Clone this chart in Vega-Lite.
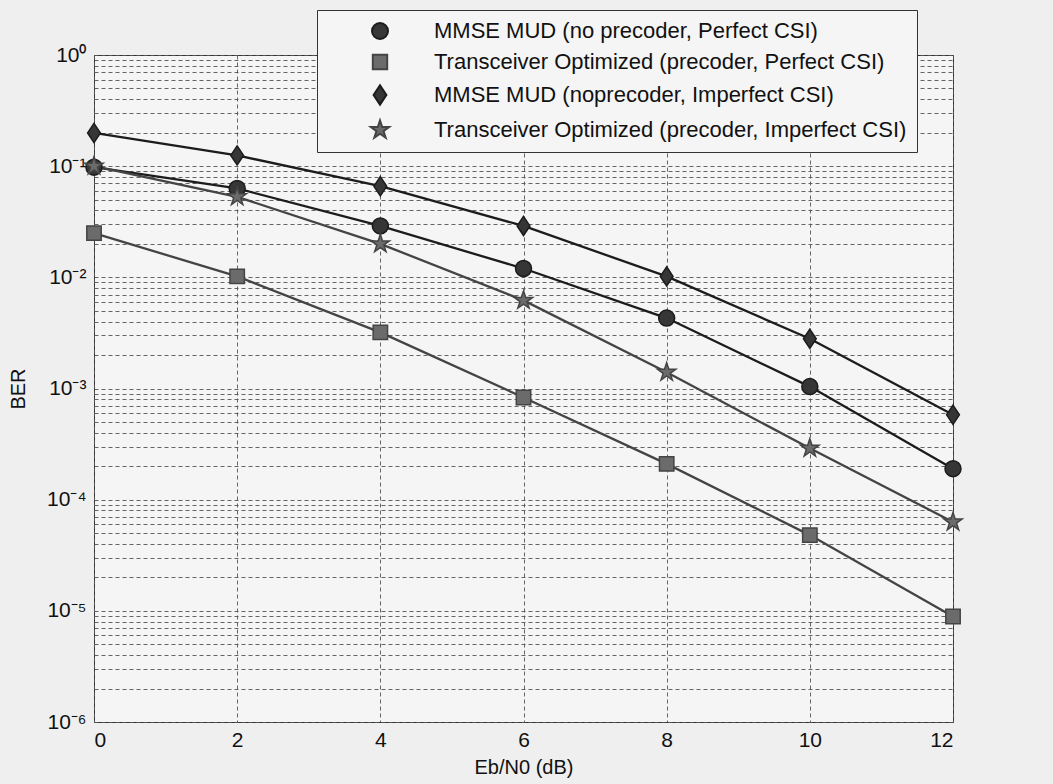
{
  "$schema": "https://vega.github.io/schema/vega-lite/v6.json",
  "width": 859,
  "height": 667,
  "autosize": {"type": "none"},
  "padding": {"left": 94, "top": 55, "right": 100, "bottom": 62},
  "background": "#efefef",
  "config": {
    "view": {"fill": "#f5f5f5", "stroke": "#333333", "strokeWidth": 1},
    "font": "Liberation Sans",
    "axis": {
      "labelFont": "Liberation Sans",
      "titleFont": "Liberation Sans",
      "labelFontSize": 21,
      "titleFontSize": 20,
      "titleFontWeight": "normal",
      "labelColor": "#111111",
      "titleColor": "#111111",
      "domain": false,
      "gridDash": [4, 3],
      "gridColor": "#555555",
      "gridWidth": 0.9,
      "gridOpacity": 1
    }
  },
  "data": {
    "values": [
      {"series": "MMSE MUD (no precoder, Perfect CSI)", "x": 0, "y": 0.098},
      {"series": "MMSE MUD (no precoder, Perfect CSI)", "x": 2, "y": 0.063},
      {"series": "MMSE MUD (no precoder, Perfect CSI)", "x": 4, "y": 0.029},
      {"series": "MMSE MUD (no precoder, Perfect CSI)", "x": 6, "y": 0.012},
      {"series": "MMSE MUD (no precoder, Perfect CSI)", "x": 8, "y": 0.0043},
      {"series": "MMSE MUD (no precoder, Perfect CSI)", "x": 10, "y": 0.00104},
      {"series": "MMSE MUD (no precoder, Perfect CSI)", "x": 12, "y": 0.00019},
      {"series": "Transceiver Optimized (precoder, Perfect CSI)", "x": 0, "y": 0.025},
      {"series": "Transceiver Optimized (precoder, Perfect CSI)", "x": 2, "y": 0.0102},
      {"series": "Transceiver Optimized (precoder, Perfect CSI)", "x": 4, "y": 0.0032},
      {"series": "Transceiver Optimized (precoder, Perfect CSI)", "x": 6, "y": 0.00083},
      {"series": "Transceiver Optimized (precoder, Perfect CSI)", "x": 8, "y": 0.00021},
      {"series": "Transceiver Optimized (precoder, Perfect CSI)", "x": 10, "y": 0.000048},
      {"series": "Transceiver Optimized (precoder, Perfect CSI)", "x": 12, "y": 0.0000089},
      {"series": "MMSE MUD (noprecoder, Imperfect CSI)", "x": 0, "y": 0.199},
      {"series": "MMSE MUD (noprecoder, Imperfect CSI)", "x": 2, "y": 0.125},
      {"series": "MMSE MUD (noprecoder, Imperfect CSI)", "x": 4, "y": 0.066},
      {"series": "MMSE MUD (noprecoder, Imperfect CSI)", "x": 6, "y": 0.029},
      {"series": "MMSE MUD (noprecoder, Imperfect CSI)", "x": 8, "y": 0.0102},
      {"series": "MMSE MUD (noprecoder, Imperfect CSI)", "x": 10, "y": 0.0028},
      {"series": "MMSE MUD (noprecoder, Imperfect CSI)", "x": 12, "y": 0.00058},
      {"series": "Transceiver Optimized (precoder, Imperfect CSI)", "x": 0, "y": 0.1},
      {"series": "Transceiver Optimized (precoder, Imperfect CSI)", "x": 2, "y": 0.053},
      {"series": "Transceiver Optimized (precoder, Imperfect CSI)", "x": 4, "y": 0.020},
      {"series": "Transceiver Optimized (precoder, Imperfect CSI)", "x": 6, "y": 0.0062},
      {"series": "Transceiver Optimized (precoder, Imperfect CSI)", "x": 8, "y": 0.0014},
      {"series": "Transceiver Optimized (precoder, Imperfect CSI)", "x": 10, "y": 0.00029},
      {"series": "Transceiver Optimized (precoder, Imperfect CSI)", "x": 12, "y": 0.000063}
    ]
  },
  "encoding": {
    "x": {
      "field": "x",
      "type": "quantitative",
      "scale": {"domain": [0, 12], "nice": false},
      "axis": {
        "title": "Eb/N0 (dB)",
        "values": [0, 2, 4, 6, 8, 10, 12],
        "grid": true,
        "ticks": false,
        "labelPadding": 7,
        "titlePadding": 7
      }
    },
    "y": {
      "field": "y",
      "type": "quantitative",
      "scale": {"type": "log", "domain": [0.000001, 1], "nice": false},
      "axis": {
        "title": "BER",
        "values": [0.000001, 0.000002, 0.000003, 0.000004, 0.000005, 0.000006, 0.000007, 0.000008, 0.000009,
                   0.00001, 0.00002, 0.00003, 0.00004, 0.00005, 0.00006, 0.00007, 0.00008, 0.00009,
                   0.0001, 0.0002, 0.0003, 0.0004, 0.0005, 0.0006, 0.0007, 0.0008, 0.0009,
                   0.001, 0.002, 0.003, 0.004, 0.005, 0.006, 0.007, 0.008, 0.009,
                   0.01, 0.02, 0.03, 0.04, 0.05, 0.06, 0.07, 0.08, 0.09,
                   0.1, 0.2, 0.3, 0.4, 0.5, 0.6, 0.7, 0.8, 0.9, 1],
        "labelExpr": "(abs(log(datum.value)/LN10 - round(log(datum.value)/LN10)) < 0.001) ? '10' + ['⁰','⁻¹','⁻²','⁻³','⁻⁴','⁻⁵','⁻⁶'][-round(log(datum.value)/LN10)] : ''",
        "labelOverlap": false,
        "labelBound": false,
        "grid": true,
        "ticks": false,
        "labelPadding": 8,
        "titlePadding": 18
      }
    }
  },
  "layer": [
    {
      "mark": {"type": "line", "strokeWidth": 2.3},
      "encoding": {
        "stroke": {
          "field": "series",
          "type": "nominal",
          "title": null,
          "scale": {
            "domain": ["MMSE MUD (no precoder, Perfect CSI)", "Transceiver Optimized (precoder, Perfect CSI)", "MMSE MUD (noprecoder, Imperfect CSI)", "Transceiver Optimized (precoder, Imperfect CSI)"],
            "range": ["#1c1c1c", "#444444", "#1c1c1c", "#444444"]
          }
        }
      }
    },
    {
      "mark": {"type": "point", "filled": true, "size": 256, "opacity": 1, "strokeWidth": 1.5},
      "encoding": {
        "fill": {
          "field": "series",
          "type": "nominal",
          "title": null,
          "scale": {
            "domain": ["MMSE MUD (no precoder, Perfect CSI)", "Transceiver Optimized (precoder, Perfect CSI)", "MMSE MUD (noprecoder, Imperfect CSI)", "Transceiver Optimized (precoder, Imperfect CSI)"],
            "range": ["#363636", "#6b6b6b", "#363636", "#6b6b6b"]
          }
        },
        "stroke": {
          "field": "series",
          "type": "nominal",
          "title": null
        },
        "shape": {
          "field": "series",
          "type": "nominal",
          "title": null,
          "scale": {
            "domain": ["MMSE MUD (no precoder, Perfect CSI)", "Transceiver Optimized (precoder, Perfect CSI)", "MMSE MUD (noprecoder, Imperfect CSI)", "Transceiver Optimized (precoder, Imperfect CSI)"],
            "range": [
              "M-1,0A1,1,0,1,1,1,0A1,1,0,1,1,-1,0Z",
              "M-0.9,-0.9L0.9,-0.9L0.9,0.9L-0.9,0.9Z",
              "M0,-1.2L0.8,0L0,1.2L-0.8,0Z",
              "M0,-1.2L0.27,-0.37L1.14,-0.37L0.44,0.14L0.71,0.97L0,0.46L-0.71,0.97L-0.44,0.14L-1.14,-0.37L-0.27,-0.37Z"
            ]
          },
          "legend": {
            "title": null,
            "orient": "none",
            "legendX": 223,
            "legendY": -45,
            "padding": 10,
            "fillColor": "#f5f5f5",
            "strokeColor": "#333333",
            "labelFont": "Liberation Sans",
            "labelFontSize": 22,
            "labelColor": "#111111",
            "labelLimit": 800,
            "symbolSize": 256,
            "symbolStrokeWidth": 2,
            "symbolOffset": 42,
            "labelOffset": 43,
            "rowPadding": 7
          }
        }
      }
    }
  ]
}
